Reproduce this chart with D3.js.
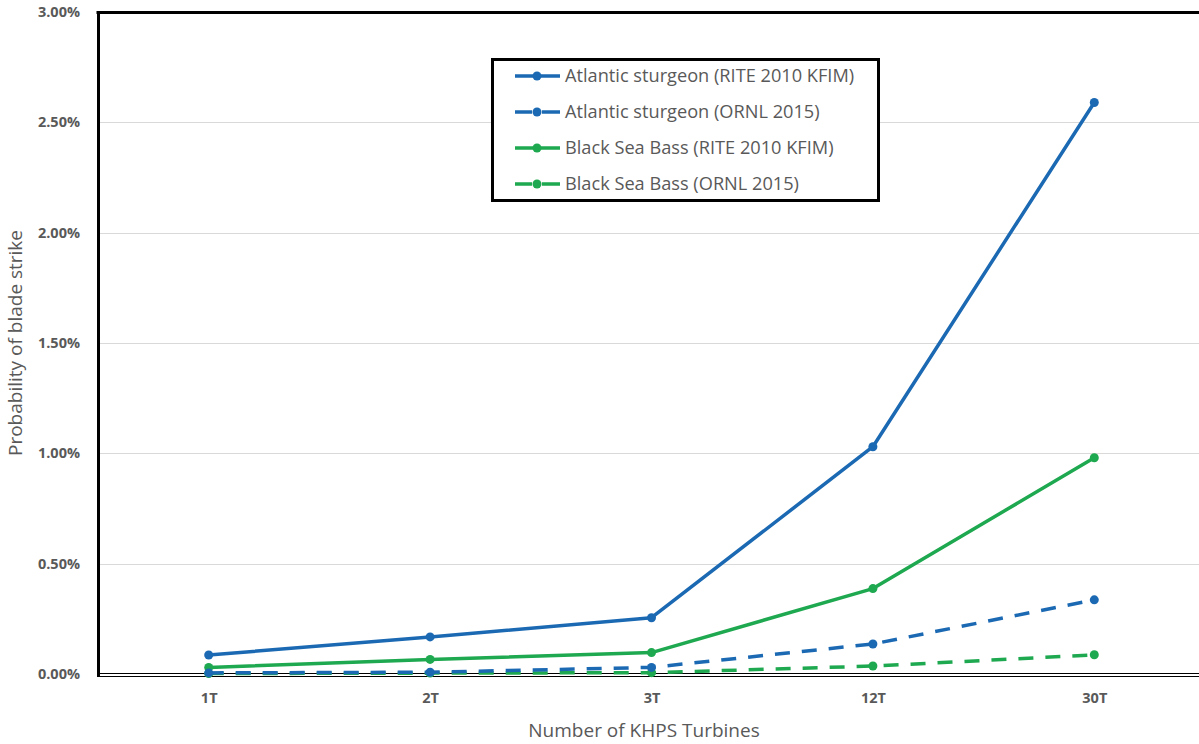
<!DOCTYPE html>
<html><head><meta charset="utf-8">
<script src="https://cdn.jsdelivr.net/npm/d3@7"></script>
<style>body{margin:0;background:#fff}svg{display:block}</style>
</head><body>
<svg id="c" width="1199" height="744"></svg>
<script>
const categories = ["1T","2T","3T","12T","30T"];
const sturgeonRite = [0.086, 0.168, 0.255, 1.03, 2.59];
const sturgeonOrnl = [0.005, 0.008, 0.03, 0.136, 0.336];
const bassRite = [0.03, 0.066, 0.097, 0.387, 0.98];
const bassOrnl = [0.002, 0.004, 0.006, 0.036, 0.087];
const yTicks = [0, 0.5, 1.0, 1.5, 2.0, 2.5, 3.0];
const seriesNames = ["Atlantic sturgeon (RITE 2010 KFIM)","Atlantic sturgeon (ORNL 2015)","Black Sea Bass (RITE 2010 KFIM)","Black Sea Bass (ORNL 2015)"];

(function(){
const BLUE = "#1b69b3", GREEN = "#1ea84f";
const series = [
  {name: seriesNames[0], values: sturgeonRite, color: BLUE, dash: null},
  {name: seriesNames[1], values: sturgeonOrnl, color: BLUE, dash: "15,12"},
  {name: seriesNames[2], values: bassRite, color: GREEN, dash: null},
  {name: seriesNames[3], values: bassOrnl, color: GREEN, dash: "15,12"}
];

const svg = d3.select("#c");
const pL = 98, pR = 1205, pT = 12, pB = 674;
const x = d3.scalePoint().domain(categories).range([pL, pR]).padding(0.5);
const y = d3.scaleLinear().domain([0, 3]).range([pB, pT]);

svg.append("g").selectAll("line").data(yTicks.filter(d => d > 0 && d < 3)).join("line")
  .attr("x1", pL).attr("x2", 1199).attr("y1", d => Math.round(y(d)) + 0.5).attr("y2", d => Math.round(y(d)) + 0.5)
  .attr("stroke", "#d9d9d9").attr("stroke-width", 1);

const yAxis = d3.axisLeft(y).tickValues(yTicks).tickFormat(d => d3.format(".2f")(d) + "%").tickSize(0).tickPadding(18);
const ya = svg.append("g").attr("transform", `translate(${pL},0)`).call(yAxis);
ya.select(".domain").remove();
ya.selectAll("text").attr("font-family", "'Open Sans', sans-serif").attr("font-weight", "bold")
  .attr("font-size", 14.5).attr("fill", "#595959");

const xAxis = d3.axisBottom(x).tickSize(0).tickPadding(19);
const xa = svg.append("g").attr("transform", `translate(0,${pB})`).call(xAxis);
xa.select(".domain").remove();
xa.selectAll("text").attr("font-family", "'Open Sans', sans-serif").attr("font-weight", "bold")
  .attr("font-size", 14.5).attr("fill", "#595959");

svg.append("line").attr("x1", pL - 1.5).attr("x2", 1199).attr("y1", 12.5).attr("y2", 12.5).attr("stroke", "#000").attr("stroke-width", 3);
svg.append("line").attr("x1", pL + 0.5).attr("x2", pL + 0.5).attr("y1", 11).attr("y2", 677).attr("stroke", "#000").attr("stroke-width", 3);
svg.append("line").attr("x1", pL).attr("x2", 1199).attr("y1", 673.5).attr("y2", 673.5).attr("stroke", "#000").attr("stroke-width", 1.2);
svg.append("line").attr("x1", pL).attr("x2", 1199).attr("y1", 676.5).attr("y2", 676.5).attr("stroke", "#000").attr("stroke-width", 1.2);

const line = d3.line().x((d, i) => x(categories[i])).y(d => y(d));
series.slice().reverse().forEach(s => {
  const g = svg.append("g");
  g.append("path").attr("d", line(s.values)).attr("fill", "none").attr("stroke", s.color)
    .attr("stroke-width", 3.5).attr("stroke-dasharray", s.dash).attr("stroke-linejoin", "round");
  g.selectAll("circle").data(s.values).join("circle")
    .attr("cx", (d, i) => x(categories[i])).attr("cy", d => y(d)).attr("r", 4.5).attr("fill", s.color);
});

svg.append("text").attr("x", 644).attr("y", 737).attr("text-anchor", "middle")
  .attr("font-family", "'Open Sans', sans-serif").attr("font-size", 19).attr("fill", "#595959")
  .text("Number of KHPS Turbines");
svg.append("text").attr("transform", "translate(22,343) rotate(-90)").attr("text-anchor", "middle")
  .attr("font-family", "'Open Sans', sans-serif").attr("font-size", 19).attr("fill", "#595959")
  .text("Probability of blade strike");

const lg = svg.append("g");
lg.append("rect").attr("x", 492.5).attr("y", 59.5).attr("width", 386).attr("height", 141)
  .attr("fill", "#fff").attr("stroke", "#000").attr("stroke-width", 3);
series.forEach((s, i) => {
  const cy = 76 + i * 36;
  lg.append("line").attr("x1", 515).attr("x2", 560).attr("y1", cy).attr("y2", cy)
    .attr("stroke", s.color).attr("stroke-width", 3.5).attr("stroke-dasharray", s.dash ? "17,10,18" : null);
  lg.append("circle").attr("cx", 537).attr("cy", cy).attr("r", 4.5).attr("fill", s.color);
  lg.append("text").attr("x", 565).attr("y", cy).attr("dy", "0.35em")
    .attr("font-family", "'Open Sans', sans-serif").attr("font-size", 18.2).attr("fill", "#595959")
    .text(s.name);
});
})();
</script>
</body></html>
